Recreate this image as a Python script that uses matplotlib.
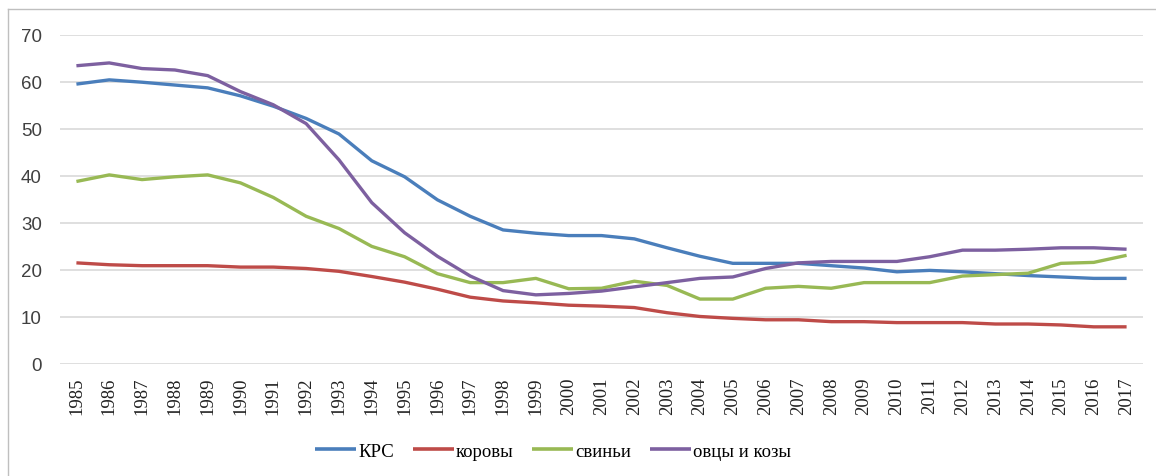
import matplotlib
matplotlib.use("Agg")
import matplotlib.pyplot as plt
from matplotlib.lines import Line2D

years = list(range(1985, 2018))

krs = [59.5, 60.4, 59.9, 59.3, 58.7, 57.0, 54.8, 52.2, 48.9, 43.2,
       39.8, 34.9, 31.4, 28.5, 27.8, 27.3, 27.3, 26.6, 24.7, 22.9,
       21.4, 21.4, 21.4, 20.9, 20.4, 19.6, 19.9, 19.6, 19.2, 18.8,
       18.5, 18.2, 18.2]
cows = [21.5, 21.1, 20.9, 20.9, 20.9, 20.6, 20.6, 20.3, 19.7, 18.6,
        17.4, 15.9, 14.2, 13.4, 13.0, 12.5, 12.3, 12.0, 10.9, 10.1,
        9.7, 9.4, 9.4, 9.0, 9.0, 8.8, 8.8, 8.8, 8.5, 8.5,
        8.3, 7.9, 7.9]
pigs = [38.8, 40.2, 39.2, 39.8, 40.2, 38.5, 35.4, 31.4, 28.8, 25.0,
        22.8, 19.2, 17.3, 17.3, 18.2, 16.0, 16.1, 17.6, 16.7, 13.8,
        13.8, 16.1, 16.5, 16.1, 17.3, 17.3, 17.3, 18.7, 19.0, 19.3,
        21.4, 21.6, 23.1]
sheep = [63.4, 64.0, 62.8, 62.5, 61.3, 57.9, 55.1, 51.1, 43.4, 34.3,
         27.9, 22.9, 18.7, 15.6, 14.7, 15.0, 15.5, 16.4, 17.3, 18.2,
         18.5, 20.3, 21.5, 21.8, 21.8, 21.8, 22.8, 24.2, 24.2, 24.4,
         24.7, 24.7, 24.4]

series = [("КРС", krs, "#4A7EBB"),
          ("коровы", cows, "#BE4B48"),
          ("свиньи", pigs, "#98B954"),
          ("овцы и козы", sheep, "#7D60A0")]

fig = plt.figure(figsize=(11.56, 4.77), dpi=100)
ax = fig.add_axes([60 / 1156, 1 - 365 / 477, 1083 / 1156, 329.3 / 477])

x = list(range(len(years)))
for name, vals, color in series:
    ax.plot(x, vals, color=color, linewidth=2.4, label=name,
            solid_capstyle="butt")

ax.set_xlim(-0.5, len(years) - 0.5)
ax.set_ylim(0, 70)
ax.set_yticks(range(0, 71, 10))
ax.set_xticks(x)
ax.set_xticklabels([str(y) for y in years], rotation=90,
                   family="Liberation Serif", fontsize=13.5, color="#222222")
for lbl in ax.get_yticklabels():
    lbl.set_family("Liberation Sans")
    lbl.set_fontsize(13.5)
    lbl.set_color("#404040")
ax.tick_params(axis="y", length=0, pad=13)
ax.tick_params(axis="x", length=0, pad=9)
ax.grid(axis="y", color="#D9D9D9", linewidth=1.2)
ax.set_axisbelow(True)
for s in ax.spines.values():
    s.set_visible(False)

leg = fig.legend(loc="center", bbox_to_anchor=(553 / 1156, 1 - 452 / 477),
                 ncol=4, frameon=False, handlelength=2.2, handletextpad=0.1,
                 columnspacing=1.0,
                 prop={"family": "Liberation Serif", "size": 13.5})
for h in leg.get_lines():
    h.set_linewidth(2.6)

# chart border (only top and left edges show)
fig.add_artist(Line2D([8 / 1156, 1], [1 - 10 / 477, 1 - 10 / 477],
                      color="#BFBFBF", linewidth=1))
fig.add_artist(Line2D([8 / 1156, 8 / 1156], [0, 1 - 10 / 477],
                      color="#BFBFBF", linewidth=1))

fig.savefig("out.png", dpi=100)
